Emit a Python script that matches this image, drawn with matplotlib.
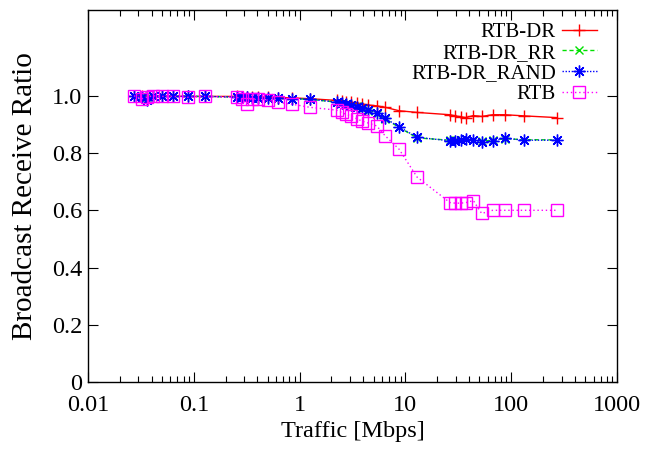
import numpy as np
import matplotlib
matplotlib.use("Agg")
import matplotlib.pyplot as plt
from matplotlib.ticker import FixedLocator, LogLocator, NullFormatter, FuncFormatter

plt.rcParams['font.family'] = ['Liberation Serif', 'DejaVu Serif']

# traffic load points (Mbps), shared by all series
traffic = [0.0272, 0.0324, 0.0361, 0.0412, 0.050, 0.0636, 0.088, 0.128,
           0.254, 0.284, 0.316, 0.352, 0.407, 0.506, 0.629, 0.842, 1.25,
           2.24, 2.50, 2.73, 3.06, 3.47, 3.87, 4.46, 5.35, 6.42, 8.70, 12.9,
           26.4, 29.5, 33.3, 37.4, 43.9, 52.6, 66.8, 87.4, 132, 269]

rtb_dr = [1.0, 1.0, 0.999, 0.999, 0.999, 0.999, 0.998, 0.998,
          0.998, 0.997, 0.997, 0.996, 0.996, 0.995, 0.994, 0.993, 0.990,
          0.984, 0.982, 0.980, 0.978, 0.975, 0.972, 0.968, 0.965, 0.960, 0.948, 0.942,
          0.934, 0.930, 0.927, 0.924, 0.931, 0.928, 0.934, 0.934, 0.930, 0.924]

rtb_dr_rr = [1.0, 0.998, 0.995, 0.999, 0.998, 0.998, 0.998, 0.998,
             0.996, 0.995, 0.995, 0.994, 0.993, 0.992, 0.991, 0.990, 0.988,
             0.978, 0.974, 0.972, 0.967, 0.963, 0.955, 0.948, 0.938, 0.920, 0.890, 0.853,
             0.845, 0.846, 0.846, 0.848, 0.846, 0.842, 0.845, 0.850, 0.847, 0.846]

rtb_dr_rand = [1.0, 0.995, 0.986, 1.0, 0.998, 0.998, 0.998, 0.998,
               0.996, 0.995, 0.995, 0.994, 0.993, 0.992, 0.991, 0.990, 0.988,
               0.978, 0.975, 0.972, 0.968, 0.962, 0.956, 0.949, 0.940, 0.922, 0.892, 0.855,
               0.843, 0.843, 0.845, 0.849, 0.845, 0.837, 0.843, 0.852, 0.845, 0.845]

rtb = [1.0, 0.99, 0.995, 1.0, 0.998, 0.998, 0.995, 0.998,
       0.995, 0.990, 0.973, 0.990, 0.988, 0.985, 0.977, 0.971, 0.960,
       0.950, 0.942, 0.936, 0.930, 0.920, 0.912, 0.905, 0.895, 0.861, 0.814, 0.716,
       0.627, 0.625, 0.625, 0.627, 0.634, 0.589, 0.600, 0.600, 0.600, 0.600]

fig = plt.figure(figsize=(6.61, 4.5), dpi=100)
ax = fig.add_axes([0.1331, 0.1511, 0.8003, 0.8267])

ax.plot(traffic, rtb_dr, color='red', lw=1.0, ls='-', marker='+', ms=8, mew=1.0,
        label='RTB-DR')
ax.plot(traffic, rtb_dr_rr, color='#00e000', lw=1.0, ls=(0, (3, 2)), marker='x', ms=6, mew=1.0,
        label='RTB-DR_RR')
ax.plot(traffic, rtb_dr_rand, color='blue', lw=1.0, ls=(0, (1, 1.2)), marker=(8, 2, 0), ms=8.5, mew=1.0,
        label='RTB-DR_RAND')
ax.plot(traffic, rtb, color='magenta', lw=1.0, ls=(0, (1, 2)), marker='s', ms=8.5, mew=1.0,
        mfc='none', label='RTB')

ax.set_xscale('log')
ax.set_xlim(0.01, 1000)
ax.set_ylim(0, 1.3)

ax.xaxis.set_major_locator(FixedLocator([0.01, 0.1, 1, 10, 100, 1000]))
ax.xaxis.set_major_formatter(FuncFormatter(lambda v, p: '%g' % v))
ax.xaxis.set_minor_locator(LogLocator(base=10, subs=np.arange(2, 10)))
ax.xaxis.set_minor_formatter(NullFormatter())
ax.yaxis.set_major_locator(FixedLocator([0, 0.2, 0.4, 0.6, 0.8, 1.0]))
ax.yaxis.set_major_formatter(FuncFormatter(lambda v, p: '0' if v == 0 else '%.1f' % v))

ax.tick_params(which='both', direction='in', top=True, right=True, labelsize=17.5)
ax.tick_params(axis='y', pad=4)
ax.tick_params(axis='x', pad=9)
ax.tick_params(which='major', length=7, width=0.8)
ax.tick_params(which='minor', length=4, width=0.8)
for s in ax.spines.values():
    s.set_linewidth(1.0)

ax.set_xlabel('Traffic [Mbps]', fontsize=17.5, labelpad=4)
ax.set_ylabel('Broadcast Receive Ratio', fontsize=21, labelpad=10)

leg = ax.legend(loc='upper right', bbox_to_anchor=(0.985, 1.0), frameon=False,
                markerfirst=False, fontsize=15, handlelength=1.65, handletextpad=0.3,
                labelspacing=0.05, borderaxespad=0.3, borderpad=0.3)

fig.savefig('out.png', dpi=100)
